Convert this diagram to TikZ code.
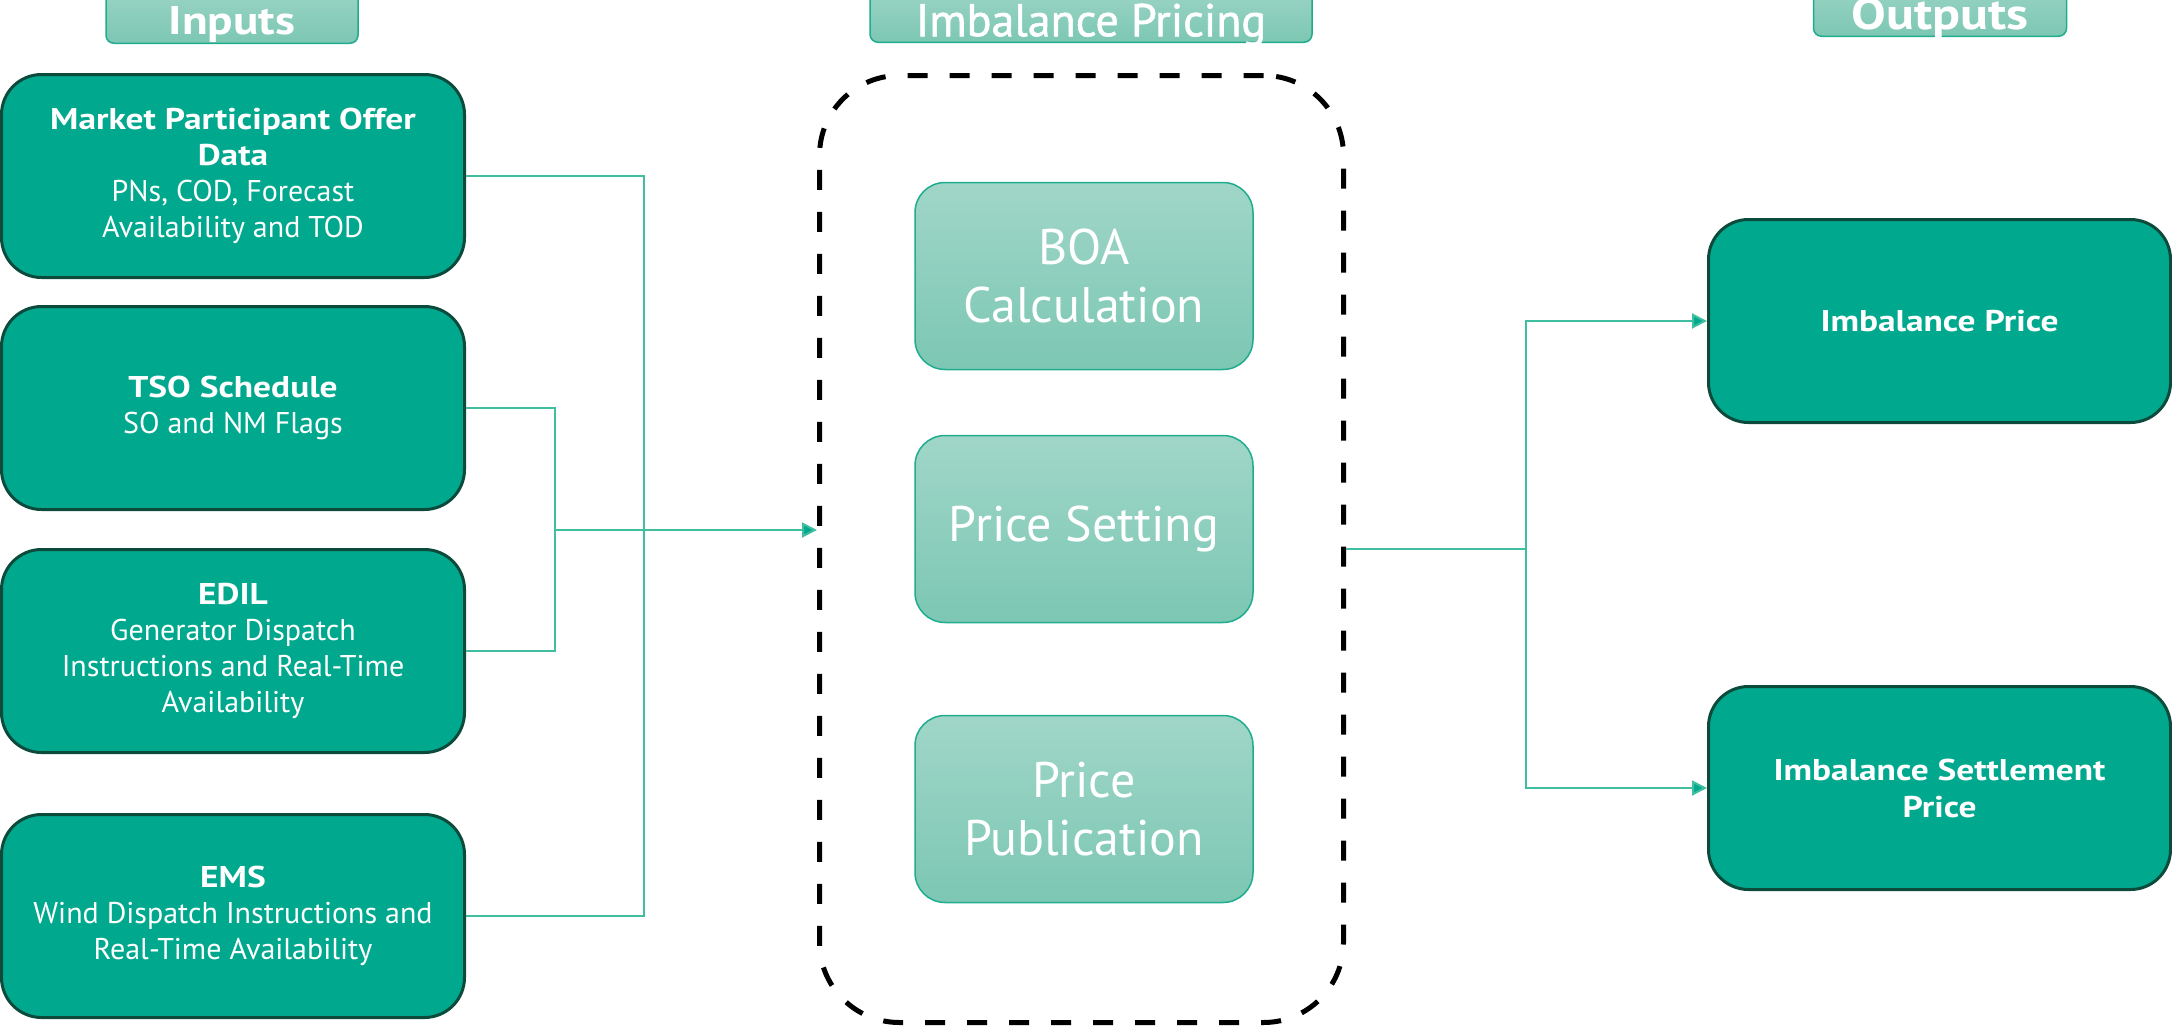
\documentclass[tikz,border=0pt]{standalone}
\usepackage{fontspec}
\setmainfont{PT Sans}[BoldFeatures={FakeStretch=1.18}]
\newfontfamily\hdrfont{PT Sans}[FakeBold=1.2]
\usetikzlibrary{arrows.meta}
\definecolor{boxteal}{RGB}{0,168,142}
\definecolor{boxedge}{RGB}{12,74,60}
\definecolor{paletop}{RGB}{160,214,200}
\definecolor{palebottom}{RGB}{124,199,179}
\definecolor{paleedge}{RGB}{32,172,142}
\definecolor{linkteal}{RGB}{64,190,160}
\tikzset{
    inbox/.style={draw=boxedge, line width=3pt, fill=boxteal, rounded corners=40pt,
        minimum width=463pt, minimum height=203pt, inner sep=0pt,
        text=white, align=center, font=\fontsize{30}{36}\selectfont},
    outbox/.style={inbox, font=\bfseries\fontsize{30}{37}\selectfont},
    stagebox/.style={draw=paleedge, line width=1.5pt, top color=paletop, bottom color=palebottom,
        rounded corners=30pt, minimum width=338pt, minimum height=187pt, inner sep=0pt,
        text=white, align=center, font=\fontsize{50}{58}\selectfont},
    header/.style={draw=paleedge, line width=1.5pt, top color=paletop, bottom color=palebottom,
        rounded corners=8pt, inner sep=0pt, text height=55pt, text=white, anchor=south},
    link/.style={draw=linkteal, line width=2pt},
    flow/.style={link, -{Triangle[length=15pt, width=15pt, fill=boxteal]}}
}
\begin{document}
\begin{tikzpicture}[x=1pt, y=-1pt]
        \useasboundingbox (0,0) rectangle (2172,1029);
        % column headers
        \node[header, minimum width=252pt, text depth=9pt, font=\bfseries\fontsize{40}{48}\selectfont] (inHdr) at (232,44) {Inputs};
        \node[header, minimum width=442pt, text depth=6pt, font=\hdrfont\fontsize{46}{54}\selectfont] (pricingHdr) at (1091,43) {Imbalance Pricing};
        \node[header, minimum width=253pt, text depth=7pt, font=\bfseries\fontsize{44}{52}\selectfont] (outHdr) at (1940,37) {Outputs};
        % inputs
        \node[inbox] (mpd) at (233,176) {\textbf{Market Participant Offer}\\\textbf{Data}\\PNs, COD, Forecast\\Availability and TOD};
        \node[inbox] (tso) at (233,408) {\textbf{TSO Schedule}\\SO and NM Flags};
        \node[inbox] (edil) at (233,651) {\textbf{EDIL}\\Generator Dispatch\\Instructions and Real-Time\\Availability};
        \node[inbox] (ems) at (233,916) {\textbf{EMS}\\Wind Dispatch Instructions and\\Real-Time Availability};
        % imbalance pricing
        \node[draw, line width=5pt, dash pattern=on 20pt off 22pt, rounded corners=80pt,
            minimum width=524pt, minimum height=947pt] (pricing) at (1081.5,549) {};
        \node[stagebox] (boa) at (1084,276) {BOA\\Calculation};
        \node[stagebox] (setting) at (1084,529) {Price Setting};
        \node[stagebox] (publication) at (1084,809) {Price\\Publication};
        % outputs
        \node[outbox, minimum width=462pt] (ip) at (1939.5,321) {Imbalance Price};
        \node[outbox, minimum width=462pt] (isp) at (1939.5,788) {Imbalance Settlement\\Price};
        % connectors
        \coordinate (busL) at (644,530);
        \coordinate (busM) at (555,530);
        \coordinate (busR) at (1526,549);
        \draw[link] (mpd.east) -| (busL) |- (ems.east);
        \draw[link] (tso.east) -| (busM) |- (edil.east);
        \draw[link] (busM) -- (busL);
        \draw[flow] (busL) -- (busL -| pricing.west);
        \draw[link] (pricing.east) -- (busR);
        \draw[flow] (busR) |- (ip.west);
        \draw[flow] (busR) |- (isp.west);
\end{tikzpicture}
\end{document}
